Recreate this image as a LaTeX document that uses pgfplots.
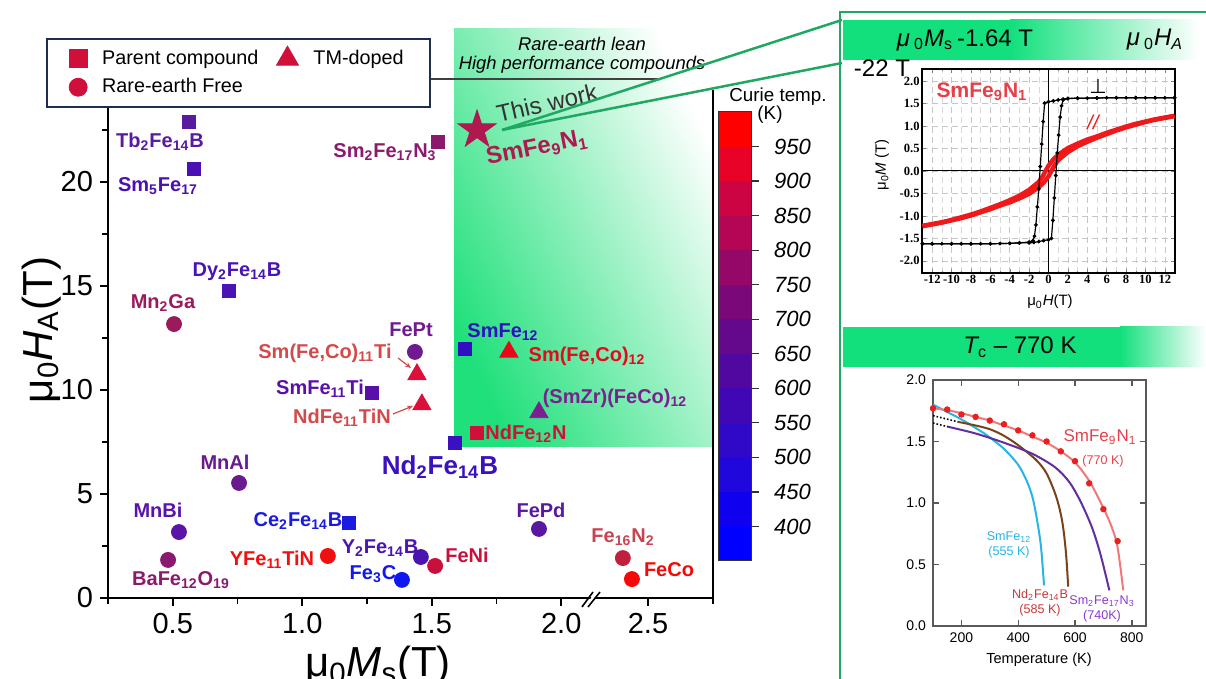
\documentclass[border=0pt]{standalone}
\usepackage{pgfplots}
\pgfplotsset{compat=1.18}
\usepackage{fontspec}
\setmainfont{Liberation Sans}
\newfontfamily\serifb{Liberation Serif}
\newfontfamily\dejavu{DejaVu Sans}
\usetikzlibrary{plotmarks,arrows.meta}

\definecolor{grn}{HTML}{1FE07A}
\definecolor{hgrn}{HTML}{12E07C}
\definecolor{frm}{HTML}{1FA862}
\definecolor{navy}{HTML}{1F2D4F}
\definecolor{legred}{HTML}{D0103A}
\definecolor{cTb}{HTML}{5A1AA0}
\definecolor{cSmFive}{HTML}{4A10B4}
\definecolor{cSmTwo}{HTML}{8B1A6E}
\definecolor{cStar}{HTML}{B01850}
\definecolor{cDy}{HTML}{4A14B4}
\definecolor{cMnGa}{HTML}{9A1A5C}
\definecolor{cFePt}{HTML}{701A90}
\definecolor{cTM}{HTML}{DC1038}
\definecolor{cTMlab}{HTML}{D44A4A}
\definecolor{cSmFeTi}{HTML}{5A10A8}
\definecolor{cSmFe12}{HTML}{3010C0}
\definecolor{cSmFeCo}{HTML}{E8081C}
\definecolor{cSmZr}{HTML}{7A2090}
\definecolor{cNdN}{HTML}{D0103A}
\definecolor{cNd}{HTML}{3A10C0}
\definecolor{cMnAl}{HTML}{6A1A8E}
\definecolor{cMnBi}{HTML}{5A14A8}
\definecolor{cBa}{HTML}{8A1A70}
\definecolor{cCe}{HTML}{1A1AE0}
\definecolor{cYTi}{HTML}{F01010}
\definecolor{cY}{HTML}{4A14B0}
\definecolor{cFeC}{HTML}{1018F0}
\definecolor{cFeNi}{HTML}{C8103C}
\definecolor{cFePd}{HTML}{5A18A0}
\definecolor{cFeN}{HTML}{C0203C}
\definecolor{cFeNlab}{HTML}{C84450}
\definecolor{cFeCo}{HTML}{F40808}
\definecolor{cbA}{HTML}{0000FF}
\definecolor{cbB}{HTML}{1000F0}
\definecolor{cbC}{HTML}{2008DC}
\definecolor{cbD}{HTML}{3008C8}
\definecolor{cbE}{HTML}{4008B4}
\definecolor{cbF}{HTML}{5008A0}
\definecolor{cbG}{HTML}{64088C}
\definecolor{cbH}{HTML}{7A0878}
\definecolor{cbI}{HTML}{960868}
\definecolor{cbJ}{HTML}{B40654}
\definecolor{cbK}{HTML}{CC0444}
\definecolor{cbL}{HTML}{E80228}
\definecolor{cbM}{HTML}{FF0000}
\definecolor{hred}{HTML}{F01818}
\definecolor{tred}{HTML}{F07878}
\definecolor{tdot}{HTML}{E82020}
\definecolor{tcyan}{HTML}{28B4E6}
\definecolor{tbrown}{HTML}{7A4218}
\definecolor{tpur}{HTML}{6030A0}
\definecolor{tlabred}{HTML}{E8404A}
\definecolor{tlabnd}{HTML}{C83838}
\definecolor{tlabpur}{HTML}{8A3AD0}

\pgfdeclareplotmark{fstar}{%
  \pgfpathmoveto{\pgfpointpolar{90}{\pgfplotmarksize}}%
  \pgfpathlineto{\pgfpointpolar{126}{0.382*\pgfplotmarksize}}%
  \pgfpathlineto{\pgfpointpolar{162}{\pgfplotmarksize}}%
  \pgfpathlineto{\pgfpointpolar{198}{0.382*\pgfplotmarksize}}%
  \pgfpathlineto{\pgfpointpolar{234}{\pgfplotmarksize}}%
  \pgfpathlineto{\pgfpointpolar{270}{0.382*\pgfplotmarksize}}%
  \pgfpathlineto{\pgfpointpolar{306}{\pgfplotmarksize}}%
  \pgfpathlineto{\pgfpointpolar{342}{0.382*\pgfplotmarksize}}%
  \pgfpathlineto{\pgfpointpolar{18}{\pgfplotmarksize}}%
  \pgfpathlineto{\pgfpointpolar{54}{0.382*\pgfplotmarksize}}%
  \pgfpathclose
  \pgfusepathqfillstroke}

\newcommand{\LF}{\fontsize{10}{12}\selectfont\bfseries}
\newcommand{\sub}[1]{\textsubscript{#1}}

\begin{document}
\begin{tikzpicture}
\path[use as bounding box] (0pt,0pt) rectangle (603pt,339.5pt);
\fill[white] (0pt,0pt) rectangle (603pt,339.5pt);

% ================= MAIN AXIS =================
\begin{axis}[
  at={(54pt,40.5pt)}, anchor=south west, scale only axis,
  width=302.5pt, height=280pt,
  xmin=0.25, xmax=2.586, ymin=0, ymax=26.923,
  axis x line=bottom, axis y line=left,
  axis line style={-, line width=0.8pt},
  xtick={0.5,1,1.5,2,2.335}, xticklabels={0.5,1.0,1.5,2.0,2.5},
  minor xtick={0.25,0.75,1.25,1.75,2.586},
  ytick={0,5,10,15,20}, minor ytick={2.5,7.5,12.5,17.5,22.5},
  tick align=outside, major tick length=4pt, minor tick length=3pt,
  tick style={line width=0.8pt, black},
  ticklabel style={font=\fontsize{14.5}{16}\selectfont},
  /pgf/number format/assume math mode=true,
  clip=false,
  legend style={at={(-0.1025,1)}, anchor=north west, draw=navy, line width=1.2pt, fill=white,
    font=\fontsize{9.9}{11}\selectfont, inner xsep=11pt, inner ysep=3.5pt, row sep=1.5pt,
    /tikz/every odd column/.append style={column sep=5.5pt},
    /tikz/every even column/.append style={column sep=7pt}},
  legend columns=2, legend cell align=left,
  sq/.style={only marks, mark=square*, mark size=3.4pt, forget plot},
  ci/.style={only marks, mark=*, mark size=3.75pt, forget plot},
  tr/.style={only marks, mark=triangle*, mark size=5.25pt, forget plot},
]
\addlegendimage{only marks, mark=square*, mark size=4.5pt, mark options={line width=0.4pt}, legred}
\addlegendentry{Parent compound}
\addlegendimage{only marks, mark=triangle*, mark size=6.35pt, mark options={line width=0.4pt}, legred}
\addlegendentry{TM-doped}
\addlegendimage{only marks, mark=*, mark size=4.5pt, mark options={line width=0.4pt}, legred}
\addlegendentry{Rare-earth Free}

\shade[left color=grn, middle color=grn!40!white, right color=white, shading angle=115]
  (axis cs:1.586,7.26) rectangle (axis cs:2.586,27.4);

% parent compounds (squares)
\addplot[sq, cTb]     coordinates {(0.563,22.88)};
\addplot[sq, cSmFive] coordinates {(0.582,20.63)};
\addplot[sq, cSmTwo]  coordinates {(1.524,21.92)};
\addplot[sq, cDy]     coordinates {(0.717,14.76)};
\addplot[sq, cSmFeTi] coordinates {(1.269,9.86)};
\addplot[sq, cSmFe12] coordinates {(1.628,11.97)};
\addplot[sq, cNdN]    coordinates {(1.675,7.93)};
\addplot[sq, cNd]     coordinates {(1.590,7.45)};
\addplot[sq, cCe]     coordinates {(1.180,3.61)};
% TM-doped (triangles)
\addplot[tr, cTM]     coordinates {(1.443,10.75)};
\addplot[tr, cTM]     coordinates {(1.462,9.30)};
\addplot[tr, cSmFeCo] coordinates {(1.798,11.83)};
\addplot[tr, cSmZr]   coordinates {(1.914,8.92)};
% rare-earth free (circles)
\addplot[ci, cMnGa] coordinates {(0.505,13.17)};
\addplot[ci, cFePt] coordinates {(1.435,11.83)};
\addplot[ci, cMnAl] coordinates {(0.756,5.53)};
\addplot[ci, cMnBi] coordinates {(0.524,3.17)};
\addplot[ci, cBa]   coordinates {(0.482,1.83)};
\addplot[ci, cYTi]  coordinates {(1.099,2.02)};
\addplot[ci, cY]    coordinates {(1.458,1.97)};
\addplot[ci, cFeC]  coordinates {(1.385,0.87)};
\addplot[ci, cFeNi] coordinates {(1.513,1.54)};
\addplot[ci, cFePd] coordinates {(1.914,3.32)};
\addplot[ci, cFeN]  coordinates {(2.238,1.92)};
\addplot[ci, cFeCo] coordinates {(2.273,0.91)};
% this work
\addplot[only marks, mark=fstar, mark size=10pt, cStar, forget plot] coordinates {(1.675,22.5)};

% axis break and right line
\fill[white] (axis cs:2.095,-0.45) -- (axis cs:2.128,0.3) -- (axis cs:2.141,0.3) -- (axis cs:2.108,-0.45) -- cycle;
\draw[line width=0.8pt] (axis cs:2.080,-0.433) -- (axis cs:2.1226,0.288);
\draw[line width=0.8pt] (axis cs:2.1033,-0.433) -- (axis cs:2.1496,0.288);
\draw[line width=0.8pt] (axis cs:2.586,0) -- (axis cs:2.586,24.42);
\end{axis}

% ================= COLORBAR =================
\begin{axis}[
  at={(359pt,59pt)}, anchor=south west, scale only axis,
  width=16.5pt, height=224.5pt,
  xmin=0, xmax=1, ymin=350, ymax=1000, axis on top,
  xtick=\empty, ytick={400,450,...,950}, ytick pos=right,
  tick align=outside, major tick length=4pt,
  tick style={line width=0.6pt, black!80},
  axis line style={line width=0.5pt, black!80},
  yticklabel style={font=\fontsize{11}{13}\selectfont\itshape, xshift=4pt},
  /pgf/number format/assume math mode=true, /pgf/number format/1000 sep={},
]
\addplot[fill=cbA, draw=none] coordinates {(0,350)(1,350)(1,400)(0,400)} --cycle;
\addplot[fill=cbB, draw=none] coordinates {(0,400)(1,400)(1,450)(0,450)} --cycle;
\addplot[fill=cbC, draw=none] coordinates {(0,450)(1,450)(1,500)(0,500)} --cycle;
\addplot[fill=cbD, draw=none] coordinates {(0,500)(1,500)(1,550)(0,550)} --cycle;
\addplot[fill=cbE, draw=none] coordinates {(0,550)(1,550)(1,600)(0,600)} --cycle;
\addplot[fill=cbF, draw=none] coordinates {(0,600)(1,600)(1,650)(0,650)} --cycle;
\addplot[fill=cbG, draw=none] coordinates {(0,650)(1,650)(1,700)(0,700)} --cycle;
\addplot[fill=cbH, draw=none] coordinates {(0,700)(1,700)(1,750)(0,750)} --cycle;
\addplot[fill=cbI, draw=none] coordinates {(0,750)(1,750)(1,800)(0,800)} --cycle;
\addplot[fill=cbJ, draw=none] coordinates {(0,800)(1,800)(1,850)(0,850)} --cycle;
\addplot[fill=cbK, draw=none] coordinates {(0,850)(1,850)(1,900)(0,900)} --cycle;
\addplot[fill=cbL, draw=none] coordinates {(0,900)(1,900)(1,950)(0,950)} --cycle;
\addplot[fill=cbM, draw=none] coordinates {(0,950)(1,950)(1,1000)(0,1000)} --cycle;
\end{axis}

% ================= MAIN LABELS =================
\node[font=\fontsize{21}{24}\selectfont, rotate=90, anchor=base] at (26pt,174.5pt) {μ\sub{0}{\itshape H}\sub{A}(T)};
\node[font=\fontsize{21}{24}\selectfont, anchor=base] at (189pt,1pt) {μ\sub{0}{\itshape M}\sub{s}(T)};

\node[font=\LF, text=cTb] at (80pt,268.5pt) {Tb\sub{2}Fe\sub{14}B};
\node[font=\LF, text=cSmFive] at (79pt,246.5pt) {Sm\sub{5}Fe\sub{17}};
\node[font=\LF, text=cSmTwo] at (192.5pt,263.5pt) {Sm\sub{2}Fe\sub{17}N\sub{3}};
\node[font=\LF, text=cDy] at (118.5pt,203.5pt) {Dy\sub{2}Fe\sub{14}B};
\node[font=\LF, text=cMnGa] at (81.5pt,188pt) {Mn\sub{2}Ga};
\node[font=\LF, text=cFePt] at (205.5pt,174.5pt) {FePt};
\node[font=\LF, text=cTMlab] at (162.5pt,163pt) {Sm(Fe,Co)\sub{11}Ti};
\draw[cTMlab, line width=0.6pt, -{Stealth[length=3pt,width=2.5pt]}] (199pt,160.5pt) -- (205.5pt,155.5pt);
\node[font=\LF, text=cSmFeTi] at (160pt,145pt) {SmFe\sub{11}Ti};
\node[font=\LF, text=cTMlab] at (171pt,130.5pt) {NdFe\sub{11}TiN};
\draw[cTMlab, line width=0.6pt, -{Stealth[length=3pt,width=2.5pt]}] (196.5pt,132.5pt) -- (206.5pt,136.5pt);
\node[font=\LF, text=cSmFe12] at (251.5pt,173.5pt) {SmFe\sub{12}};
\node[font=\LF, text=cSmFeCo] at (293.5pt,161.5pt) {Sm(Fe,Co)\sub{12}};
\node[font=\LF, text=cSmZr] at (307.5pt,140.5pt) {(SmZr)(FeCo)\sub{12}};
\node[font=\LF, text=cNdN] at (263pt,122.5pt) {NdFe\sub{12}N};
\node[font=\fontsize{13}{15}\selectfont\bfseries, text=cNd] at (220pt,106pt) {Nd\sub{2}Fe\sub{14}B};
\node[font=\LF, text=cMnAl] at (112.5pt,108.5pt) {MnAl};
\node[font=\LF, text=cMnBi] at (79pt,84.5pt) {MnBi};
\node[font=\LF, text=cBa] at (90.5pt,49.5pt) {BaFe\sub{12}O\sub{19}};
\node[font=\LF, text=cCe] at (149pt,79pt) {Ce\sub{2}Fe\sub{14}B};
\node[font=\LF, text=cYTi] at (136pt,59.5pt) {YFe\sub{11}TiN};
\node[font=\LF, text=cY] at (190pt,65.5pt) {Y\sub{2}Fe\sub{14}B};
\node[font=\LF, text=cFeC] at (186.5pt,52.5pt) {Fe\sub{3}C};
\node[font=\LF, text=cFeNi] at (233.5pt,62pt) {FeNi};
\node[font=\LF, text=cFePd] at (270.5pt,84.5pt) {FePd};
\node[font=\LF, text=cFeNlab] at (311.5pt,71pt) {Fe\sub{16}N\sub{2}};
\node[font=\LF, text=cFeCo] at (334.5pt,54.5pt) {FeCo};
\node[font=\fontsize{12}{14}\selectfont\bfseries, text=cStar, rotate=11] at (268.5pt,265.5pt) {SmFe\sub{9}N\sub{1}};
\node[font=\fontsize{12}{14}\selectfont, text=black!80, rotate=13] at (273.5pt,288pt) {This work};
\node[font=\fontsize{9.2}{11}\selectfont\itshape] at (291pt,317.5pt) {Rare-earth lean};
\node[font=\fontsize{9.2}{11}\selectfont\itshape] at (291pt,307pt) {High performance compounds};
\draw[black!75, line width=0.6pt] (215.5pt,300pt) -- (329pt,300pt);
\node[font=\fontsize{9.4}{11}\selectfont] at (389pt,291pt) {Curie temp.};
\node[font=\fontsize{9.4}{11}\selectfont] at (385pt,282pt) {(K)};

% green connectors
\draw[frm, line width=1.25pt] (251pt,274.5pt) -- (421pt,329.5pt);
\draw[frm, line width=1.25pt] (251pt,274.5pt) -- (421pt,308pt);

% ================= RIGHT PANEL =================
\draw[frm, line width=1.25pt] (420pt,-6pt) -- (420pt,333.5pt) -- (610pt,333.5pt);
\fill[hgrn] (421.5pt,309.5pt) rectangle (505pt,329.5pt);
\shade[left color=hgrn, right color=white] (505pt,309.5pt) rectangle (600pt,329.5pt);
\node[font=\fontsize{12}{14}\selectfont] at (482.5pt,319.5pt) {{\itshape μ}\,\sub{0}{\itshape M}\sub{s}\,-1.64 T};
\node[font=\fontsize{12}{14}\selectfont] at (577.5pt,319.5pt) {{\itshape μ}\,\sub{0}{\itshape H\sub{A}}};
\node[font=\fontsize{12}{14}\selectfont] at (441pt,305.5pt) {-22 T};

\fill[hgrn] (421.5pt,156pt) rectangle (560pt,176pt);
\shade[left color=hgrn, right color=white] (560pt,156pt) rectangle (603pt,176pt);
\node[font=\fontsize{12}{14}\selectfont] at (510pt,166pt) {{\itshape T}\sub{c} -- 770 K};

% ---- hysteresis inset ----
\begin{axis}[
  at={(461pt,203pt)}, anchor=south west, scale only axis,
  width=126.5pt, height=102pt,
  xmin=-13.05, xmax=13.05, ymin=-2.27, ymax=2.27,
  xtick={-12,-10,...,12}, ytick={-2,-1.5,...,2},
  minor xtick={-13,-11,...,13},
  grid=both, major grid style={densely dashed, gray!45, line width=0.3pt},
  minor grid style={densely dashed, gray!30, line width=0.25pt},
  tick align=inside, major tick length=2pt, minor tick length=1pt,
  axis line style={line width=0.6pt},
  ticklabel style={font=\fontsize{6.3}{7}\serifb\bfseries, inner sep=1pt},
  yticklabel style={/pgf/number format/.cd, fixed, fixed zerofill, precision=1},
  /pgf/number format/assume math mode=true,
]
\draw[black, line width=0.5pt] (axis cs:0,-2.27) -- (axis cs:0,2.27);
\draw[black, line width=0.5pt] (axis cs:-13.05,0) -- (axis cs:13.05,0);
\addplot[hred, line width=2.2pt] coordinates {(13,1.23)(12,1.19)(11,1.15)(10,1.10)(9,1.05)(8,0.99)(7,0.92)(6,0.85)(5,0.77)(4,0.70)(3,0.61)(2,0.51)(1,0.36)(0.5,0.26)(0,0.12)(-0.3,0.0)(-0.6,-0.12)(-1,-0.24)(-1.5,-0.33)(-2,-0.42)(-3,-0.55)(-4,-0.65)(-5,-0.74)(-6,-0.82)(-7,-0.90)(-8,-0.97)(-9,-1.03)(-10,-1.09)(-11,-1.14)(-12,-1.18)(-13,-1.22)};
\addplot[hred, line width=2.2pt] coordinates {(-13,-1.23)(-12,-1.19)(-11,-1.15)(-10,-1.10)(-9,-1.05)(-8,-0.99)(-7,-0.92)(-6,-0.85)(-5,-0.77)(-4,-0.70)(-3,-0.61)(-2,-0.51)(-1,-0.36)(-0.5,-0.26)(0,-0.12)(0.3,0.0)(0.6,0.12)(1,0.24)(1.5,0.33)(2,0.42)(3,0.55)(4,0.65)(5,0.74)(6,0.82)(7,0.90)(8,0.97)(9,1.03)(10,1.09)(11,1.14)(12,1.18)(13,1.22)};
\addplot[black, line width=0.6pt, mark=*, mark size=0.6pt] coordinates {(13,1.63)(12,1.63)(11,1.63)(10,1.63)(9,1.63)(8,1.63)(7,1.63)(6,1.63)(5,1.625)(4,1.62)(3,1.62)(2,1.615)(1.5,1.6)(1,1.58)(0.5,1.56)(0,1.54)(-0.4,1.51)(-0.55,1.1)(-0.7,0.6)(-0.85,0.1)(-1.0,-0.4)(-1.15,-0.8)(-1.3,-1.2)(-1.45,-1.45)(-1.6,-1.55)(-2,-1.58)(-3,-1.6)(-4,-1.61)(-5,-1.615)(-6,-1.62)(-7,-1.62)(-8,-1.62)(-9,-1.62)(-10,-1.62)(-11,-1.62)(-12,-1.62)(-13,-1.62)};
\addplot[black, line width=0.6pt, mark=*, mark size=0.6pt] coordinates {(-13,-1.62)(-12,-1.62)(-10,-1.62)(-8,-1.62)(-6,-1.62)(-4,-1.61)(-3,-1.6)(-2,-1.6)(-1.5,-1.59)(-1,-1.57)(-0.5,-1.55)(0,-1.53)(0.3,-1.5)(0.45,-1.1)(0.6,-0.6)(0.75,-0.1)(0.9,0.4)(1.05,0.8)(1.2,1.2)(1.35,1.45)(1.5,1.58)(2,1.61)(3,1.62)(5,1.625)(7,1.63)(9,1.63)(11,1.63)(13,1.63)};
\end{axis}
\node[font=\fontsize{10.5}{12}\selectfont\bfseries, text=tlabred] at (491pt,293.5pt) {SmFe\sub{9}N\sub{1}};
\node[font=\fontsize{10}{12}\dejavu] at (549pt,296pt) {⊥};
\node[font=\fontsize{10}{12}\selectfont\itshape, text=hred] at (546.5pt,278.5pt) {//};
\node[font=\fontsize{7.5}{9}\selectfont, rotate=90] at (441pt,257pt) {μ\sub{0}{\itshape M} (T)};
\node[font=\fontsize{7.5}{9}\selectfont] at (525pt,188.5pt) {μ\sub{0}{\itshape H}(T)};

% ---- Tc inset ----
\begin{axis}[
  at={(466.5pt,26.5pt)}, anchor=south west, scale only axis,
  width=106.5pt, height=123pt,
  xmin=100, xmax=850, ymin=0, ymax=2,
  xtick={200,400,600,800}, ytick={0,0.5,1,1.5,2},
  tick align=inside, major tick length=3pt,
  axis line style={black!65, line width=0.7pt},
  tick style={black!65, line width=0.7pt},
  ticklabel style={font=\fontsize{7}{8}\selectfont},
  yticklabel style={/pgf/number format/.cd, fixed, fixed zerofill, precision=1},
  /pgf/number format/assume math mode=true,
]
\addplot[tcyan, line width=1pt, smooth] coordinates {(100,1.80)(150,1.74)(200,1.68)(250,1.61)(290,1.55)(350,1.44)(400,1.31)(430,1.18)(450,1.05)(465,0.88)(480,0.65)(491,0.33)};
\addplot[black, line width=0.8pt, densely dotted] coordinates {(100,1.71)(188,1.66)};
\addplot[tbrown, line width=1pt, smooth] coordinates {(188,1.66)(250,1.63)(300,1.60)(347,1.55)(400,1.47)(463,1.35)(500,1.24)(534,1.05)(555,0.85)(568,0.6)(576,0.32)};
\addplot[black, line width=0.8pt, densely dotted] coordinates {(100,1.65)(153,1.62)};
\addplot[tpur, line width=1pt, smooth] coordinates {(153,1.62)(250,1.565)(350,1.49)(450,1.40)(530,1.29)(580,1.17)(620,1.01)(660,0.80)(690,0.58)(721,0.29)};
\addplot[tred, line width=1pt, smooth] coordinates {(100,1.77)(150,1.755)(200,1.73)(250,1.70)(300,1.67)(350,1.63)(400,1.59)(450,1.54)(500,1.49)(550,1.42)(600,1.33)(650,1.18)(700,0.96)(730,0.80)(750,0.64)(770,0.29)};
\addplot[only marks, mark=*, mark size=1.4pt, tdot] coordinates {(100,1.77)(150,1.76)(200,1.72)(250,1.70)(300,1.67)(350,1.64)(400,1.59)(450,1.55)(500,1.50)(550,1.42)(600,1.34)(650,1.16)(700,0.95)(750,0.69)};
\end{axis}
\node[font=\fontsize{8.5}{10}\selectfont, text=tlabred] at (550pt,121pt) {SmFe\sub{9}N\sub{1}};
\node[font=\fontsize{6.3}{7}\selectfont, text=tlabred] at (551.5pt,109pt) {(770 K)};
\node[font=\fontsize{6.3}{7}\selectfont, text=tcyan] at (504.5pt,71pt) {SmFe\sub{12}};
\node[font=\fontsize{6.3}{7}\selectfont, text=tcyan] at (504.5pt,63.5pt) {(555 K)};
\node[font=\fontsize{6.3}{7}\selectfont, text=tlabnd] at (520pt,42pt) {Nd\sub{2}Fe\sub{14}B};
\node[font=\fontsize{6.3}{7}\selectfont, text=tlabnd] at (520pt,34.5pt) {(585 K)};
\node[font=\fontsize{6.3}{7}\selectfont, text=tlabpur] at (551pt,39pt) {Sm\sub{2}Fe\sub{17}N\sub{3}};
\node[font=\fontsize{6.3}{7}\selectfont, text=tlabpur] at (551pt,31.5pt) {(740K)};
\node[font=\fontsize{7.3}{9}\selectfont] at (519.5pt,9.5pt) {Temperature (K)};
\end{tikzpicture}
\end{document}
